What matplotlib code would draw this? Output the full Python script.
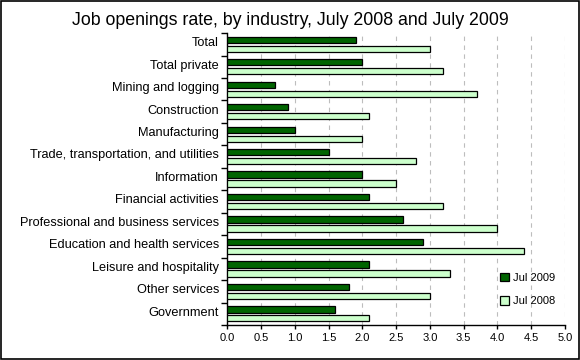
import numpy as np
import matplotlib.pyplot as plt

industries = ['Total', 'Total private', 'Mining and logging', 'Construction',
              'Manufacturing', 'Trade, transportation, and utilities',
              'Information', 'Financial activities',
              'Professional and business services',
              'Education and health services', 'Leisure and hospitality',
              'Other services', 'Government']
jul_2009 = [1.9, 2.0, 0.7, 0.9, 1.0, 1.5, 2.0, 2.1, 2.6, 2.9, 2.1, 1.8, 1.6]
jul_2008 = [3.0, 3.2, 3.7, 2.1, 2.0, 2.8, 2.5, 3.2, 4.0, 4.4, 3.3, 3.0, 2.1]
x_ticks = np.arange(0, 5.01, 0.5)

plt.rcParams['font.family'] = ['Liberation Sans', 'DejaVu Sans']

fig = plt.figure(figsize=(5.8, 3.6), dpi=100)
# black frame around the whole picture
fig.patches.append(plt.Rectangle((0.001, 0.002), 0.997, 0.995, transform=fig.transFigure,
                                 fill=False, edgecolor='black', linewidth=1.2))
ax = fig.add_axes([0.392, 0.097, 0.582, 0.811])

y = np.arange(len(industries))
h = 0.28
ax.barh(y - 0.2, jul_2009, height=h, color='#006400', edgecolor='black',
        linewidth=0.9, label='Jul 2009', zorder=3)
ax.barh(y + 0.2, jul_2008, height=h, color='#ccffcc', edgecolor='black',
        linewidth=0.9, label='Jul 2008', zorder=3)

ax.set_ylim(len(industries) - 0.5, -0.5)
ax.set_xlim(0, 5.0)
ax.set_xticks(x_ticks)
ax.set_xticklabels([f'{v:.1f}' for v in x_ticks], fontsize=8)
ax.set_yticks(y - 0.12)
ax.set_yticklabels(industries, fontsize=9.2)
ax.set_yticks(np.arange(-0.5, len(industries), 1.0), minor=True)
ax.tick_params(axis='y', which='major', length=0, pad=6)
ax.tick_params(axis='y', which='minor', length=4, width=1)
ax.tick_params(axis='x', length=3, width=1, pad=3)

ax.grid(axis='x', linestyle=(0, (4, 4)), color='#bdbdbd', linewidth=0.8, zorder=0)
for s in ['top', 'right']:
    ax.spines[s].set_visible(False)
for s in ['left', 'bottom']:
    ax.spines[s].set_linewidth(1)

ax.legend(loc='lower right', bbox_to_anchor=(1.0, 0.03), frameon=False, fontsize=8,
          handlelength=0.8, handleheight=0.8, labelspacing=1.2, handletextpad=0.3)

fig.suptitle('Job openings rate, by industry, July 2008 and July 2009',
             fontsize=12.8, y=0.968)

plt.savefig('out.png', dpi=100)
